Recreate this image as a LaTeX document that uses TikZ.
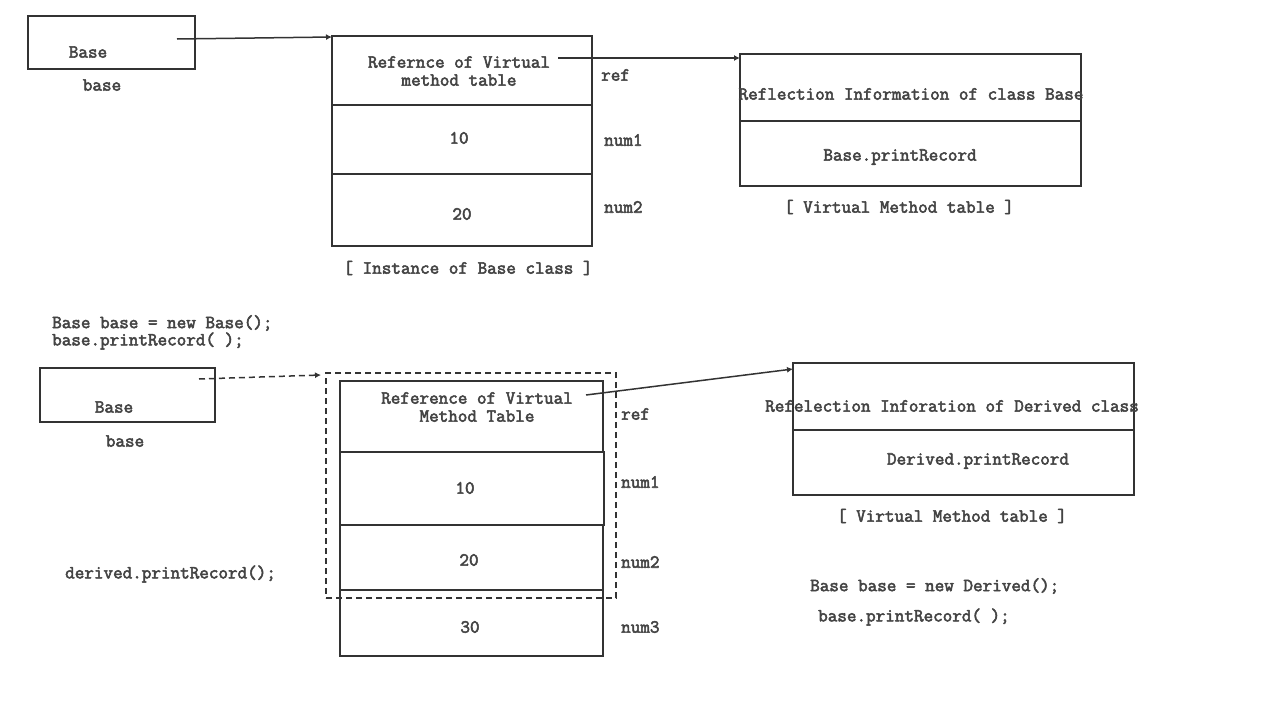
\documentclass[tikz,border=0pt]{standalone}
\usepackage{fontspec}
\newfontfamily\courfont{Latin Modern Mono}[FakeBold=2.8]
\usetikzlibrary{arrows.meta}
\definecolor{ink}{HTML}{333333}
\definecolor{txt}{HTML}{444444}
\tikzset{
  cell/.style={draw=ink, line width=1.5pt, inner sep=0pt, outer sep=0pt},
  lbl/.style={text=txt, font=\courfont\fontsize{18.6}{18}\selectfont, inner sep=0pt, align=center},
  lbll/.style={lbl, anchor=west},
  arr/.style={draw=ink, line width=1.5pt, -{Latex[length=6pt,width=6pt]}},
  dsh/.style={dash pattern=on 6pt off 4pt}
}
\begin{document}
\begin{tikzpicture}[x=1pt,y=-1pt]
\useasboundingbox[fill=white] (0,0) rectangle (1266,704);
% top left variable
\node[cell, minimum width=167pt, minimum height=53pt] (boxA) at (111.5,42.5) {};
\node[lbl] (boxAt) at (88,52) {Base};
\node[lbl] (boxAn) at (102,85) {base};
% instance of Base
\node[cell, minimum width=260pt, minimum height=69pt] (i1a) at (462,70.5) {};
\node[cell, minimum width=260pt, minimum height=69pt] (i1b) at (462,139.5) {};
\node[cell, minimum width=260pt, minimum height=72pt] (i1c) at (462,210) {};
\node[lbl] (i1at) at (459,71) {Refernce of Virtual\\method table};
\node[lbl] (i1bt) at (459,138) {10};
\node[lbl] (i1ct) at (462,214) {20};
\node[lbll] (i1r) at (601,75) {ref};
\node[lbll] (i1n1) at (604,140) {num1};
\node[lbll] (i1n2) at (604,207) {num2};
\node[lbl] (i1cap) at (468,268) {[ Instance of Base class ]};
% VMT base
\node[cell, minimum width=341pt, minimum height=67pt] (v1a) at (910.5,87.5) {};
\node[cell, minimum width=341pt, minimum height=65pt] (v1b) at (910.5,153.5) {};
\node[lbl] (v1at) at (911,94) {Reflection Information of class Base};
\node[lbl] (v1bt) at (900,157) {Base.printRecord};
\node[lbl] (v1cap) at (899,207) {[ Virtual Method table ]};
% arrows top
\coordinate (a1s) at (177,39);
\coordinate (a2s) at (558,58);
\draw[arr] (a1s) -- ([yshift=-1pt]i1a.north west);
\draw[arr] (a2s) -- ([yshift=-4pt]v1a.north west);
% code top
\node[lbll] (code1) at (52,323) {Base base = new Base();};
\node[lbll] (code2) at (52,341) {base.printRecord( );};
% bottom variable
\node[cell, minimum width=175pt, minimum height=54pt] (boxB) at (127.5,395) {};
\node[lbl] (boxBt) at (114,407) {Base};
\node[lbl] (boxBn) at (125,441) {base};
% dashed region
\node[cell, dsh, minimum width=290pt, minimum height=225pt] (dash) at (471,485.5) {};
% instance of Derived
\node[cell, minimum width=263pt, minimum height=71pt] (i2a) at (471.5,416.5) {};
\node[cell, minimum width=264pt, minimum height=73pt] (i2b) at (472,488.5) {};
\node[cell, minimum width=263pt, minimum height=65pt] (i2c) at (471.5,557.5) {};
\node[cell, minimum width=263pt, minimum height=66pt] (i2d) at (471.5,623) {};
\node[lbl] (i2at) at (477,407) {Reference of Virtual\\Method Table};
\node[lbl] (i2bt) at (465,488) {10};
\node[lbl] (i2ct) at (469,560) {20};
\node[lbl] (i2dt) at (470,627) {30};
\node[lbll] (i2r) at (621,414) {ref};
\node[lbll] (i2n1) at (621,482) {num1};
\node[lbll] (i2n2) at (621,562) {num2};
\node[lbll] (i2n3) at (621,627) {num3};
% VMT derived
\node[cell, minimum width=341pt, minimum height=67pt] (v2a) at (963.5,396.5) {};
\node[cell, minimum width=341pt, minimum height=65pt] (v2b) at (963.5,462.5) {};
\node[lbl] (v2at) at (952,406) {Refelection Inforation of Derived class};
\node[lbl] (v2bt) at (978,461) {Derived.printRecord};
\node[lbl] (v2cap) at (952,516) {[ Virtual Method table ]};
% arrows bottom
\coordinate (a3s) at (199,379);
\coordinate (a4s) at (586,395);
\draw[arr, dsh] (a3s) -- ([xshift=-5pt,yshift=-2pt]dash.north west);
\draw[arr] (a4s) -- ([yshift=-6pt]v2a.north west);
% code bottom
\node[lbll] (code3) at (65,574) {derived.printRecord();};
\node[lbll] (code4) at (810,586) {Base base = new Derived();};
\node[lbll] (code5) at (818,617) {base.printRecord( );};
\end{tikzpicture}
\end{document}
